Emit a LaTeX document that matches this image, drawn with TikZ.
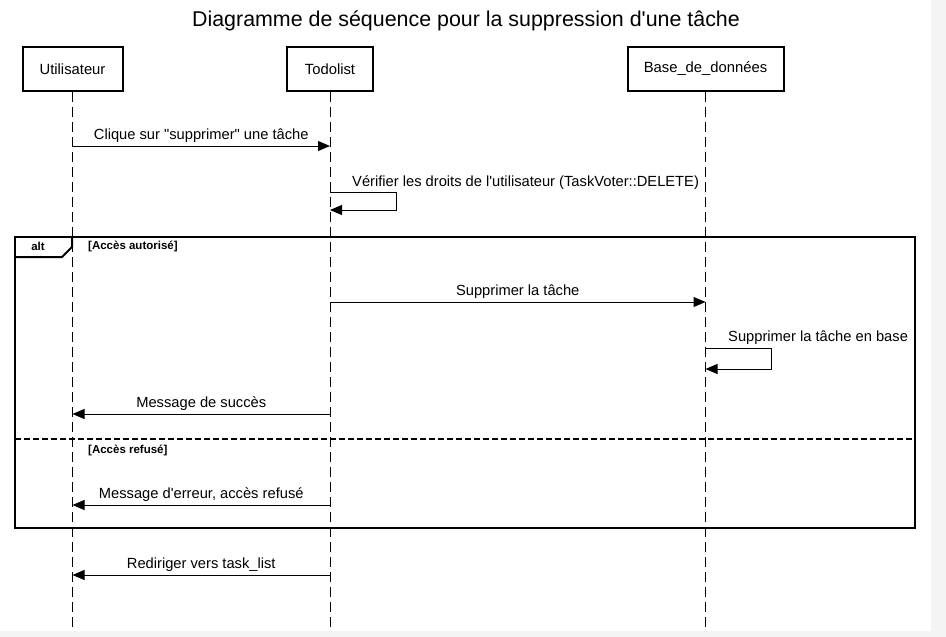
\documentclass[tikz,border=0pt]{standalone}
\usepackage{fontspec}
\setmainfont{Liberation Sans}[Ligatures=TeXOff]
\usetikzlibrary{arrows.meta}
\definecolor{fond}{HTML}{F4F4F4}

\begin{document}
\begin{tikzpicture}[
        x=1pt, y=-1pt,
        acteur/.style={rectangle, draw, line width=2pt, minimum height=44pt, font=\fontsize{14.8}{18}\selectfont},
        lifeline/.style={line width=1pt, dash pattern=on 10pt off 5pt},
        message/.style={line width=1pt, -{Triangle[length=12pt, width=10pt]}},
        texte/.style={font=\fontsize{14.7}{18}\selectfont, inner sep=0pt, text depth=0pt},
        garde/.style={font=\fontsize{11.5}{14}\selectfont\bfseries, anchor=base west, inner sep=0pt},
        cadre/.style={line width=2pt}
    ]
        \fill[fond] (0,0) rectangle (946,637);
        \fill[white] (0,0) rectangle (931,631);
        \useasboundingbox (0,0) rectangle (946,637);

        \node[font=\fontsize{21.4}{25}\selectfont, anchor=base] (titre) at (466,26)
            {Diagramme de séquence pour la suppression d'une tâche};

        \node[acteur, minimum width=100pt] (utilisateur) at (72.5,69) {Utilisateur};
        \node[acteur, minimum width=86pt] (todolist) at (330,69) {Todolist};
        \node[acteur, minimum width=156pt] (base) at (705.5,69) {Base\_de\_données};

        \coordinate (fin) at (0,631);
        \foreach \acteur in {utilisateur,todolist,base} {
            \draw[lifeline] (\acteur.south) -- (\acteur |- fin);
        }

        \draw[cadre] (15,237) rectangle (915,528);
        \draw[cadre] (15,257) -- (62,257) -- (72,247) -- (72,237);
        \node[font=\fontsize{11.5}{14}\selectfont\bfseries] (alt) at (38,246) {alt};
        \node[garde] (autorise) at (88,249) {[Accès autorisé]};
        \draw[line width=2pt, dash pattern=on 6pt off 3pt] (15,439) -- (915,439);
        \node[garde] (refuse) at (88,453) {[Accès refusé]};

        \foreach \src/\dst/\y/\txt in {
            utilisateur/todolist/146/{Clique sur "supprimer" une tâche},
            todolist/base/302/{Supprimer la tâche},
            todolist/utilisateur/414/{Message de succès},
            todolist/utilisateur/505/{Message d'erreur, accès refusé},
            todolist/utilisateur/575/{Rediriger vers task\_list}} {
            \draw[message] (\src |- 0,\y) -- node[texte, above=6pt] {\txt} (\dst |- 0,\y);
        }

        \draw[message] (todolist |- 0,192) -- ++(66,0) -- ++(0,18) -- (todolist |- 0,210);
        \node[texte, anchor=base west] (verif) at (352,186)
            {Vérifier les droits de l'utilisateur (TaskVoter::DELETE)};
        \draw[message] (base |- 0,348) -- ++(66,0) -- ++(0,21) -- (base |- 0,369);
        \node[texte, anchor=base west] (enbase) at (728,341) {Supprimer la tâche en base};
    \end{tikzpicture}
\end{document}
